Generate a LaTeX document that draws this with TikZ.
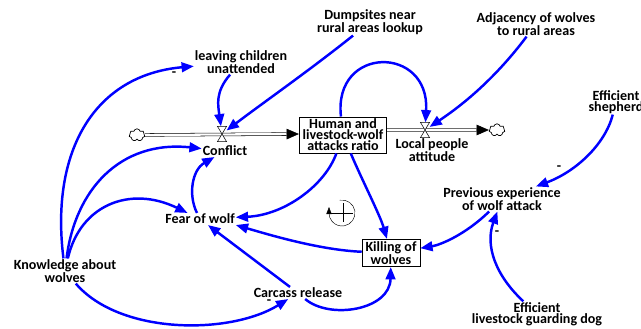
\documentclass[tikz,border=0pt]{standalone}
\usepackage{fontspec}
\setmainfont{Carlito}
\usetikzlibrary{arrows.meta, shapes.symbols}

\begin{document}
\begin{tikzpicture}[
    x=0.4mm, y=-0.4mm,
    var/.style={align=center, inner sep=1pt, font=\bfseries\fontsize{16}{12.5}\selectfont},
    stock/.style={var, draw, line width=0.7pt, inner xsep=4pt, inner ysep=2.5pt},
    link/.style={draw=blue, line width=2.8pt, -{Triangle[length=14pt, width=11pt]}},
    sign/.style={font=\bfseries\fontsize{16}{16}\selectfont, inner sep=0pt},
    pipe/.style={draw=black, line width=0.6pt, double=white, double distance=2.6pt},
    valve/.style={minimum width=10pt, minimum height=17pt, inner sep=0pt},
    sink/.style={cloud, cloud puffs=7, draw, line width=0.8pt, minimum width=18pt, minimum height=14pt, inner sep=0pt}
]
    \useasboundingbox (0,0) rectangle (641,329);

    % Stocks and flows
    \node[sink] (srcL) at (137,135) {};
    \node[valve] (vconf) at (222,134) {};
    \node[var] (conf) at (225,151) {Conflict};
    \node[stock] (human) at (343,135) {Human and\\livestock-wolf\\attacks ratio};
    \node[valve] (vlocal) at (425,130) {};
    \node[var] (local) at (432,150) {Local people\\attitude};
    \node[sink] (snkR) at (497,130) {};
    \node[stock] (kill) at (391,253) {Killing of\\wolves};

    \draw[pipe, -{Triangle[length=14pt, width=12pt]}] (srcL) -- (human.west |- vconf);
    \draw[pipe, -{Triangle[length=14pt, width=12pt]}] (human.east |- vlocal) -- (snkR);
    \foreach \v in {vconf, vlocal}
        \draw[fill=white, line width=0.6pt] (\v.north west) -- (\v.north east) -- (\v.south west) -- (\v.south east) -- cycle;

    % Auxiliaries
    \node[var] (dump) at (370,22) {Dumpsites near\\rural areas lookup};
    \node[var] (adj) at (536,24) {Adjacency of wolves\\to rural areas};
    \node[var] (leave) at (241,62) {leaving children\\unattended};
    \node[var] (shep) at (616,102) {Efficient\\shepherd};
    \node[var] (prev) at (502,199) {Previous experience\\of wolf attack};
    \node[var] (fear) at (200,219) {Fear of wolf};
    \node[var] (know) at (65,271) {Knowledge about\\wolves};
    \node[var] (carc) at (298,293) {Carcass release};
    \node[var] (dog) at (537,314) {Efficient\\livestock guarding dog};

    % Causal links
    \draw[link] (know) .. controls (50,150) and (95,75) .. (leave);
    \node[sign] at (174,74) {-};
    \draw[link] (know) .. controls (75,190) and (120,140) .. (conf);
    \draw[link] (know) .. controls (80,205) and (130,185) .. (fear);
    \draw[link] (know) .. controls (120,335) and (230,335) .. (carc);
    \node[sign] at (269,302) {-};
    \draw[link] (leave) .. controls (215,92) and (218,105) .. (vconf);
    \draw[link] (dump) .. controls (310,70) and (260,105) .. (vconf);
    \draw[link] (adj) .. controls (500,72) and (470,100) .. (vlocal);
    \draw[link] (human) .. controls (333,45) and (430,45) .. (vlocal);
    \draw[link] (human) .. controls (325,185) and (285,215) .. (fear);
    \draw[link] (human) .. controls (362,180) and (380,215) .. (kill);
    \draw[link] (fear) .. controls (188,195) and (192,170) .. (conf);
    \draw[link] (kill) .. controls (320,250) and (270,235) .. (fear.south east);
    \draw[link] (carc) -- (fear);
    \draw[link] (carc) .. controls (330,320) and (390,310) .. (kill);
    \draw[link] (prev) .. controls (465,235) and (440,245) .. (kill);
    \draw[link] (shep) .. controls (605,145) and (575,172) .. (prev);
    \node[sign] at (559,168) {-};
    \draw[link] (dog) .. controls (495,275) and (485,245) .. (prev);
    \node[sign] at (497,233) {-};

    % Loop marker
    \draw[line width=0.5pt, -{Triangle[length=8pt, width=6pt]}] (342,213) ++(-100:13) arc[start angle=-100, end angle=180, radius=13] -- ++(0,-6);
    \draw[line width=1pt] (330,213) -- (353,213) (343,203) -- (343,222);
\end{tikzpicture}
\end{document}
